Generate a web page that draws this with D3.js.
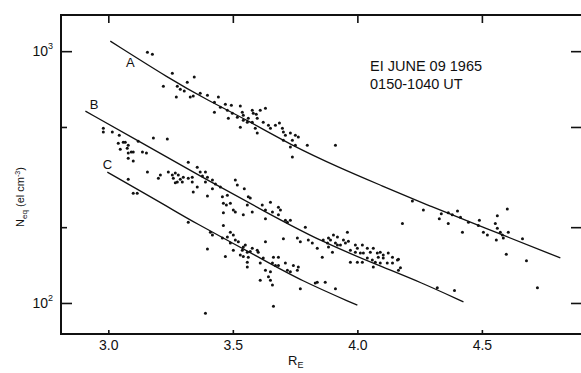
<!DOCTYPE html>
<html><head><meta charset="utf-8">
<script src="https://cdn.jsdelivr.net/npm/d3@7"></script>
<style>
body{margin:0;background:#fff}
svg{display:block}
text{font-family:"Liberation Sans",Arial,sans-serif;fill:#111}
</style>
</head><body>
<svg id="c" width="581" height="373"></svg>
<script>
// ---- data (R_E, N_eq) ----
const xTicks = [3.0, 3.5, 4.0, 4.5];
const xTickLabels = ["3.0", "3.5", "4.0", "4.5"];
const yMajorTicks = [100, 1000];
const yMinorTicks = [200, 500];
const yTickBase = ["10", "10"];
const yTickExp = ["2", "3"];
const curveNames = ["A", "B", "C"];
const annotation = ["EI JUNE 09 1965", "0150-1040 UT"];

const curveA = [[3.008,1096],[3.249,774],[3.398,639],[3.558,532],[3.731,425],[3.932,343],[4.092,294],[4.293,242],[4.494,202],[4.815,151]];
const curveB = [[2.908,578],[3.116,443],[3.369,319],[3.631,230],[3.851,176],[4.092,140],[4.253,121],[4.426,101]];
const curveC = [[2.996,331],[3.249,238],[3.329,213],[3.610,151],[3.771,123],[4.000,98]];

const pointsA = [[3.157,991],[3.177,973],[3.257,818],[3.345,789],[3.221,726],[3.317,753],[3.277,726],[3.289,706],[3.273,657],[3.329,657],
[3.305,694],[3.369,681],[3.398,669],[3.442,657],[3.426,627],[3.450,599],[3.470,616],[3.494,610],[3.530,605],[3.426,572],
[3.478,583],[3.498,567],[3.482,542],[3.518,547],[3.538,572],[3.542,557],[3.530,499],[3.558,522],[3.562,542],[3.341,663],
[3.582,567],[3.594,562],[3.598,542],[3.578,522],[3.542,532],[3.622,522],[3.631,594],[3.643,508],[3.651,494],[3.671,508],
[3.687,518],[3.590,494],[3.598,473],[3.699,494],[3.703,477],[3.711,464],[3.731,473],[3.751,464],[3.763,456],[3.703,443],
[3.739,443],[3.731,416],[3.751,423],[3.799,423],[3.912,423],[3.739,380],[3.578,583],[3.610,583],
[4.221,254],[4.265,234],[4.337,226],[4.329,216],[4.365,228],[4.381,224],[4.402,232],[4.414,219],[4.446,209],[4.365,207],
[4.422,191],[4.490,213],[4.486,203],[4.562,222],[4.554,207],[4.602,236],[4.562,198],[4.574,191],[4.582,186],[4.606,191],
[4.586,181],[4.558,178],[4.522,186],[4.506,191],[4.663,180],[4.598,156],[4.679,147],[4.181,207],[4.723,115],[4.321,115],[4.390,112]];

const pointsB = [[2.980,494],[3.016,477],[2.980,477],[3.044,464],[3.068,435],[3.181,452],[3.237,448],[3.120,439],[3.060,435],[3.080,423],
[3.040,431],[3.048,408],[3.076,412],[3.092,398],[3.080,394],[3.100,398],[3.137,398],[3.153,394],[3.100,366],[3.080,376],
[3.157,331],[3.209,322],[3.201,313],[3.080,310],[3.241,331],[3.257,322],[3.269,328],[3.281,322],[3.261,313],[3.289,310],
[3.301,316],[3.321,313],[3.277,302],[3.297,302],[3.337,302],[3.269,300],[3.357,289],[3.341,276],[3.321,362],[3.357,346],
[3.369,331],[3.390,331],[3.337,316],[3.378,319],[3.398,316],[3.418,308],[3.390,302],[3.430,297],[3.450,289],[3.418,284],
[3.398,266],[3.458,264],[3.478,268],[3.510,308],[3.518,294],[3.546,284],[3.490,249],[3.462,249],[3.502,234],[3.510,230],
[3.462,228],[3.562,264],[3.570,261],[3.558,245],[3.578,230],[3.542,224],[3.618,245],[3.651,251],[3.631,234],[3.659,230],
[3.683,240],[3.691,234],[3.683,224],[3.631,216],[3.711,213],[3.731,213],[3.719,209],[3.791,200],[3.703,180],[3.759,181],
[3.771,175],[3.803,178],[3.819,173],[3.863,178],[3.904,186],[3.920,183],[3.892,178],[3.920,170],[3.884,167],[3.839,165],
[3.474,245],[3.631,175],[3.884,181],[3.859,152],[3.871,121],[3.839,121],[3.880,173],[3.912,173],[3.900,159],[3.932,170],
[3.960,191],[3.944,178],[3.964,176],[3.952,173],[3.972,162],[3.992,170],[4.000,165],[4.020,170],[4.040,165],[3.992,159],
[4.012,158],[4.024,158],[4.052,159],[4.064,165],[4.080,158],[4.092,159],[4.104,155],[4.084,152],[4.124,158],[4.141,152],
[4.161,148],[4.040,151],[4.060,148],[4.072,145],[4.092,144],[4.120,144],[4.141,144],[4.020,145],[3.972,145],[4.000,145],
[4.173,138],[4.165,135],[4.064,139],[3.912,114],[4.104,151],[4.165,149]];

const pointsC = [[3.410,191],[3.462,203],[3.490,191],[3.502,186],[3.478,183],[3.458,181],[3.510,178],[3.490,173],[3.398,164],[3.502,162],
[3.538,162],[3.542,167],[3.558,159],[3.578,165],[3.598,162],[3.530,155],[3.542,153],[3.562,152],[3.470,153],[3.622,151],
[3.663,152],[3.683,152],[3.321,209],[3.418,186],[3.522,175],[3.550,170],[3.570,160],[3.602,159],[3.659,144],[3.671,141],
[3.683,141],[3.651,133],[3.610,144],[3.711,144],[3.743,141],[3.763,139],[3.759,135],[3.731,133],[3.719,135],[3.631,135],
[3.643,127],[3.651,123],[3.610,123],[3.659,118],[3.771,114],[3.558,145],[3.558,139],[3.663,97],[3.390,91],[3.116,273],
[3.100,273],[3.831,120]];

// ---- drawing ----
const svg = d3.select("#c");
const x = d3.scaleLinear().domain([2.81, 4.91]).range([61, 584]);
const y = d3.scaleLog().domain([75.3, 1392]).range([334, 15]);
const ink = "#111";

// axes ticks (inward)
const g = svg.append("g");
g.append("g").attr("transform","translate(0,334)")
  .call(d3.axisBottom(x).tickValues(xTicks).tickSize(-4).tickPadding(6).tickFormat((d,i)=>xTickLabels[i]))
  .call(s=>s.select(".domain").remove())
  .call(s=>s.selectAll("text").style("font-size","14px").attr("fill",ink).attr("font-family","Liberation Sans, Arial, sans-serif"));
g.append("g").attr("transform","translate(0,15)")
  .call(d3.axisTop(x).tickValues(xTicks).tickSize(-8).tickFormat(""))
  .call(s=>s.select(".domain").remove());
g.append("g").attr("transform","translate(61,0)")
  .call(d3.axisLeft(y).tickValues(yMajorTicks).tickSize(-11).tickFormat(""))
  .call(s=>s.select(".domain").remove());
g.append("g").attr("transform","translate(61,0)")
  .call(d3.axisLeft(y).tickValues(yMinorTicks).tickSize(-6).tickFormat(""))
  .call(s=>s.select(".domain").remove());
g.append("g").attr("transform","translate(583,0)")
  .call(d3.axisRight(y).tickValues(yMajorTicks.concat(yMinorTicks)).tickSize(-12).tickFormat(""))
  .call(s=>s.select(".domain").remove());
g.selectAll(".tick line").attr("stroke",ink).attr("stroke-width",1.6);

// frame
svg.append("path")
  .attr("d",`M584,15H61V334H584`)
  .attr("fill","none").attr("stroke",ink).attr("stroke-width",2);

// y tick labels with exponent
yMajorTicks.forEach((v,i)=>{
  const t = svg.append("text").attr("x",53).attr("y",y(v)+5).attr("text-anchor","end").style("font-size","14px");
  t.append("tspan").text(yTickBase[i]);
  t.append("tspan").attr("dy",-7).style("font-size","9px").text(yTickExp[i]);
});

// axis titles
const xl = svg.append("text").attr("x",288).attr("y",365).style("font-size","13px");
xl.append("tspan").text("R");
xl.append("tspan").attr("dy",3).style("font-size","9px").text("E");

const yl = svg.append("text").attr("transform","translate(24,197) rotate(-90)")
  .attr("text-anchor","middle").style("font-size","11px");
yl.append("tspan").text("N");
yl.append("tspan").attr("dy",3).style("font-size","8px").text("eq");
yl.append("tspan").attr("dy",-3).text(" (el cm");
yl.append("tspan").attr("dy",-4).style("font-size","7px").text("-3");
yl.append("tspan").attr("dy",4).text(")");

// curves
const line = d3.line().x(d=>x(d[0])).y(d=>y(d[1])).curve(d3.curveBasis);
[curveA, curveB, curveC].forEach(c=>{
  svg.append("path").attr("d",line(c)).attr("fill","none").attr("stroke",ink).attr("stroke-width",1.3);
});

// curve labels
const labelPos = [[curveA[0][0]+0.08, curveA[0][1]*0.79],[curveB[0][0]+0.035, curveB[0][1]*1.02],[curveC[0][0]+0.0, curveC[0][1]*1.03]];
curveNames.forEach((n,i)=>{
  svg.append("text").attr("x",x(labelPos[i][0])).attr("y",y(labelPos[i][1]))
    .attr("text-anchor","middle").style("font-size","13px").text(n);
});

// points
[pointsA, pointsB, pointsC].forEach(pts=>{
  svg.append("g").selectAll("circle").data(pts).join("circle")
    .attr("cx",d=>x(d[0])).attr("cy",d=>y(d[1])).attr("r",1.5).attr("fill",ink);
});

// annotation
annotation.forEach((s,i)=>{
  svg.append("text").attr("x",370).attr("y",71+i*18).style("font-size","14.5px").text(s);
});
</script>
</body></html>
